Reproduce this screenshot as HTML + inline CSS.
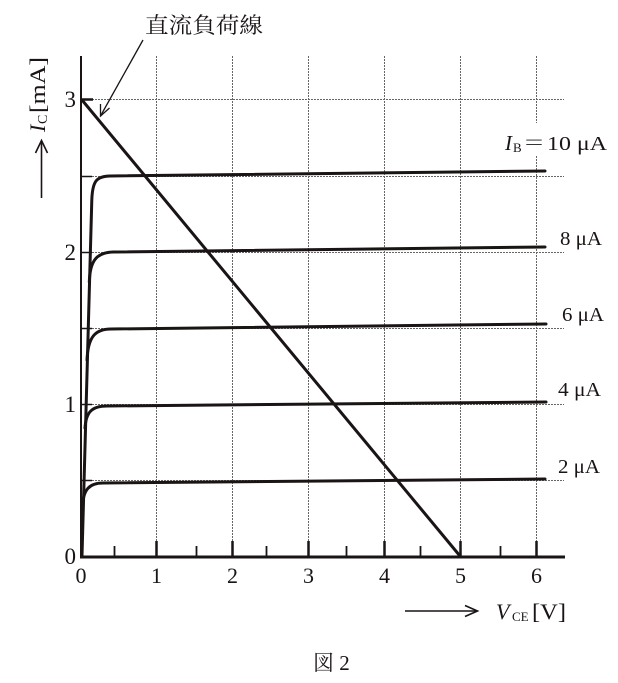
<!DOCTYPE html>
<html><head><meta charset="utf-8"><style>
html,body{margin:0;padding:0;background:#fff;}
svg{display:block;}
text{font-family:"Liberation Serif","Noto Serif CJK SC",serif;fill:#1a1414;}
</style></head><body>
<svg width="618" height="683" viewBox="0 0 618 683" xmlns="http://www.w3.org/2000/svg">
<g stroke="#666" stroke-width="1" stroke-dasharray="2,1" fill="none">
  <line x1="156.5" y1="56" x2="156.5" y2="541"/>
  <line x1="232.5" y1="56" x2="232.5" y2="541"/>
  <line x1="308.5" y1="56" x2="308.5" y2="541"/>
  <line x1="384.5" y1="56" x2="384.5" y2="541"/>
  <line x1="460.5" y1="56" x2="460.5" y2="541"/>
  <line x1="536.5" y1="56" x2="536.5" y2="123"/>
  <line x1="536.5" y1="156" x2="536.5" y2="541"/>
  <line x1="92" y1="99.5" x2="564" y2="99.5"/>
  <line x1="92" y1="176.5" x2="564" y2="176.5"/>
  <line x1="92" y1="252.5" x2="564" y2="252.5"/>
  <line x1="92" y1="328.5" x2="564" y2="328.5"/>
  <line x1="92" y1="404.5" x2="564" y2="404.5"/>
  <line x1="92" y1="480.5" x2="564" y2="480.5"/>
</g>
<g stroke="#1a1414" fill="none">
  <line x1="81" y1="56" x2="81" y2="558" stroke-width="2"/>
  <line x1="80" y1="557" x2="565" y2="557" stroke-width="3"/>
  <g stroke-width="1.5">
    <line x1="81" y1="99.5" x2="93" y2="99.5" stroke-width="2.5"/>
    <line x1="81" y1="176.5" x2="92" y2="176.5"/>
    <line x1="81" y1="252.5" x2="92" y2="252.5"/>
    <line x1="81" y1="328.5" x2="92" y2="328.5"/>
    <line x1="81" y1="404.5" x2="92" y2="404.5"/>
    <line x1="81" y1="480.5" x2="92" y2="480.5"/>
  </g>
  <g stroke-width="2.5">
    <line x1="156.5" y1="541" x2="156.5" y2="557"/>
    <line x1="232.5" y1="541" x2="232.5" y2="557"/>
    <line x1="308.5" y1="541" x2="308.5" y2="557"/>
    <line x1="384.5" y1="541" x2="384.5" y2="557"/>
    <line x1="460.5" y1="541" x2="460.5" y2="557"/>
    <line x1="536.5" y1="541" x2="536.5" y2="557"/>
  </g>
  <g stroke-width="1.8">
    <line x1="114.5" y1="546" x2="114.5" y2="557"/>
    <line x1="196.5" y1="546" x2="196.5" y2="557"/>
    <line x1="266.5" y1="546" x2="266.5" y2="557"/>
    <line x1="346.5" y1="546" x2="346.5" y2="557"/>
    <line x1="420.5" y1="546" x2="420.5" y2="557"/>
    <line x1="500.5" y1="546" x2="500.5" y2="557"/>
  </g>
  <g stroke-width="3" stroke-linecap="round" stroke-linejoin="round">
    <path d="M82,556 L91.8,200 C92.5,180 97,176.5 110,176 L545,171"/>
    <path d="M89.3,282 C90,260 97,252.5 113,252 L545,247"/>
    <path d="M87,360 C88,337 95,329 111,329 L546,324"/>
    <path d="M85,428 C86,412 92,406 107,406 L546,402"/>
    <path d="M82.6,505 C83.5,490 89,483 103,483 L545,479"/>
  </g>
  <line x1="82" y1="100" x2="460" y2="556" stroke-width="3"/>
  <g stroke-width="1.3">
    <line x1="143" y1="40" x2="100.5" y2="116"/>
    <polyline points="100.5,104 100.5,116 109.5,108"/>
  </g>
  <g stroke-width="1.6">
    <line x1="41.5" y1="141" x2="41.5" y2="198"/>
    <polyline points="35.5,153 41.5,140.5 47.5,153"/>
    <line x1="405" y1="611" x2="477" y2="611"/>
    <polyline points="465,605.5 477.5,611 465,616.5"/>
  </g>
</g>
<g font-size="23" text-anchor="end">
  <text x="76" y="107">3</text>
  <text x="76" y="260">2</text>
  <text x="76" y="412">1</text>
  <text x="76" y="564">0</text>
</g>
<g font-size="22" text-anchor="middle">
  <text x="81" y="583">0</text>
  <text x="156.5" y="583">1</text>
  <text x="232.5" y="583">2</text>
  <text x="308.5" y="583">3</text>
  <text x="384.5" y="583">4</text>
  <text x="460.5" y="583">5</text>
  <text x="536.5" y="583">6</text>
</g>
<g font-size="20">
  <text x="505" y="150" font-style="italic" font-size="21">I</text>
  <text x="513" y="152" font-size="13">B</text>
  <text x="523" y="150" font-size="21" font-family="'Noto Sans CJK JP',sans-serif" textLength="22" lengthAdjust="spacingAndGlyphs">＝</text>
  <text x="547" y="150" textLength="60" lengthAdjust="spacingAndGlyphs">10 μA</text>
  <text x="560" y="245" textLength="42" lengthAdjust="spacingAndGlyphs">8 μA</text>
  <text x="562" y="321" textLength="42" lengthAdjust="spacingAndGlyphs">6 μA</text>
  <text x="558" y="396" textLength="43" lengthAdjust="spacingAndGlyphs">4 μA</text>
  <text x="558" y="473" textLength="42" lengthAdjust="spacingAndGlyphs">2 μA</text>
</g>
<g transform="translate(45,132) rotate(-90)">
  <text x="0" y="0" font-size="22" font-style="italic">I</text>
  <text x="8" y="2" font-size="14">C</text>
  <text x="19" y="0" font-size="22" textLength="56" lengthAdjust="spacingAndGlyphs">[mA]</text>
</g>
<text x="496" y="619" font-size="22" font-style="italic">V</text>
<text x="512" y="621" font-size="13">CE</text>
<text x="532" y="619" font-size="22" textLength="34" lengthAdjust="spacingAndGlyphs">[V]</text>
<text x="145" y="33" font-size="22" font-family="'Noto Serif CJK SC','Noto Sans CJK JP',serif" textLength="118" lengthAdjust="spacingAndGlyphs">直流負荷線</text>
<text x="313" y="670" font-size="21" font-family="'Liberation Serif','Noto Serif CJK SC',serif">図 2</text>
</svg>
</body></html>
